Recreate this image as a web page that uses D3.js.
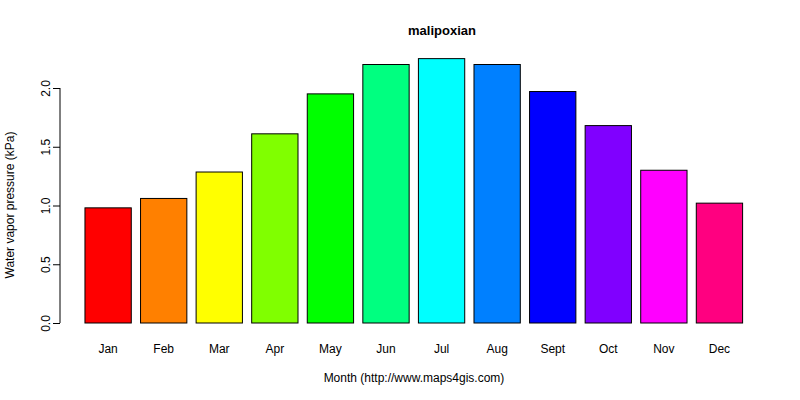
<!DOCTYPE html>
<html><head><meta charset="utf-8">
<script src="https://cdn.jsdelivr.net/npm/d3@7"></script>
<style>body{margin:0;background:#fff}text{font-family:"Liberation Sans",Arial,sans-serif}</style>
</head><body><div id="chart"></div>
<script>
const months = ["Jan","Feb","Mar","Apr","May","Jun","Jul","Aug","Sept","Oct","Nov","Dec"];
const values = [0.98,1.06,1.285,1.61,1.95,2.20,2.25,2.20,1.97,1.68,1.30,1.02];
const colors = ["#FF0000","#FF8000","#FFFF00","#80FF00","#00FF00","#00FF80","#00FFFF","#0080FF","#0000FF","#8000FF","#FF00FF","#FF0080"];
const yTicks = [0,0.5,1,1.5,2];

const width = 800, height = 400;
const svg = d3.select("#chart").append("svg").attr("width",width).attr("height",height);

const x = d3.scaleLinear().domain([0,14.4]).range([75.7,742.6]);
const y = d3.scaleLinear().domain([0,2]).range([323,88]);

svg.selectAll("rect").data(values).enter().append("rect")
  .attr("x",(d,i)=>x(0.2+1.2*i))
  .attr("width",x(1)-x(0))
  .attr("y",d=>y(d))
  .attr("height",d=>y(0)-y(d))
  .attr("fill",(d,i)=>colors[i])
  .attr("stroke","#000").attr("stroke-width",1);

const ax = svg.append("g").attr("transform","translate(60,0)")
  .call(d3.axisLeft(y).tickValues(yTicks).tickSize(7).tickFormat(d3.format(".1f")));
ax.select(".domain").attr("d","M0,"+y(0)+"V"+y(2));
ax.selectAll("text").attr("font-size",12).attr("fill","#000")
  .attr("transform",d=>"rotate(-90)").attr("x",0).attr("y",-10)
  .attr("dy",0).attr("text-anchor","middle").attr("font-family","Liberation Sans, Arial");

svg.selectAll(".mlab").data(months).enter().append("text")
  .attr("x",(d,i)=>x(0.7+1.2*i)).attr("y",353)
  .attr("text-anchor","middle").attr("font-size",12).text(d=>d);

svg.append("text").attr("x",442).attr("y",35).attr("text-anchor","middle")
  .attr("font-size",13).attr("font-weight","bold").text("malipoxian");
svg.append("text").attr("x",414).attr("y",382).attr("text-anchor","middle")
  .attr("font-size",12).text("Month (http://www.maps4gis.com)");
svg.append("text").attr("transform","translate(14,205) rotate(-90)").attr("text-anchor","middle")
  .attr("font-size",12).text("Water vapor pressure (kPa)");
</script></body></html>
